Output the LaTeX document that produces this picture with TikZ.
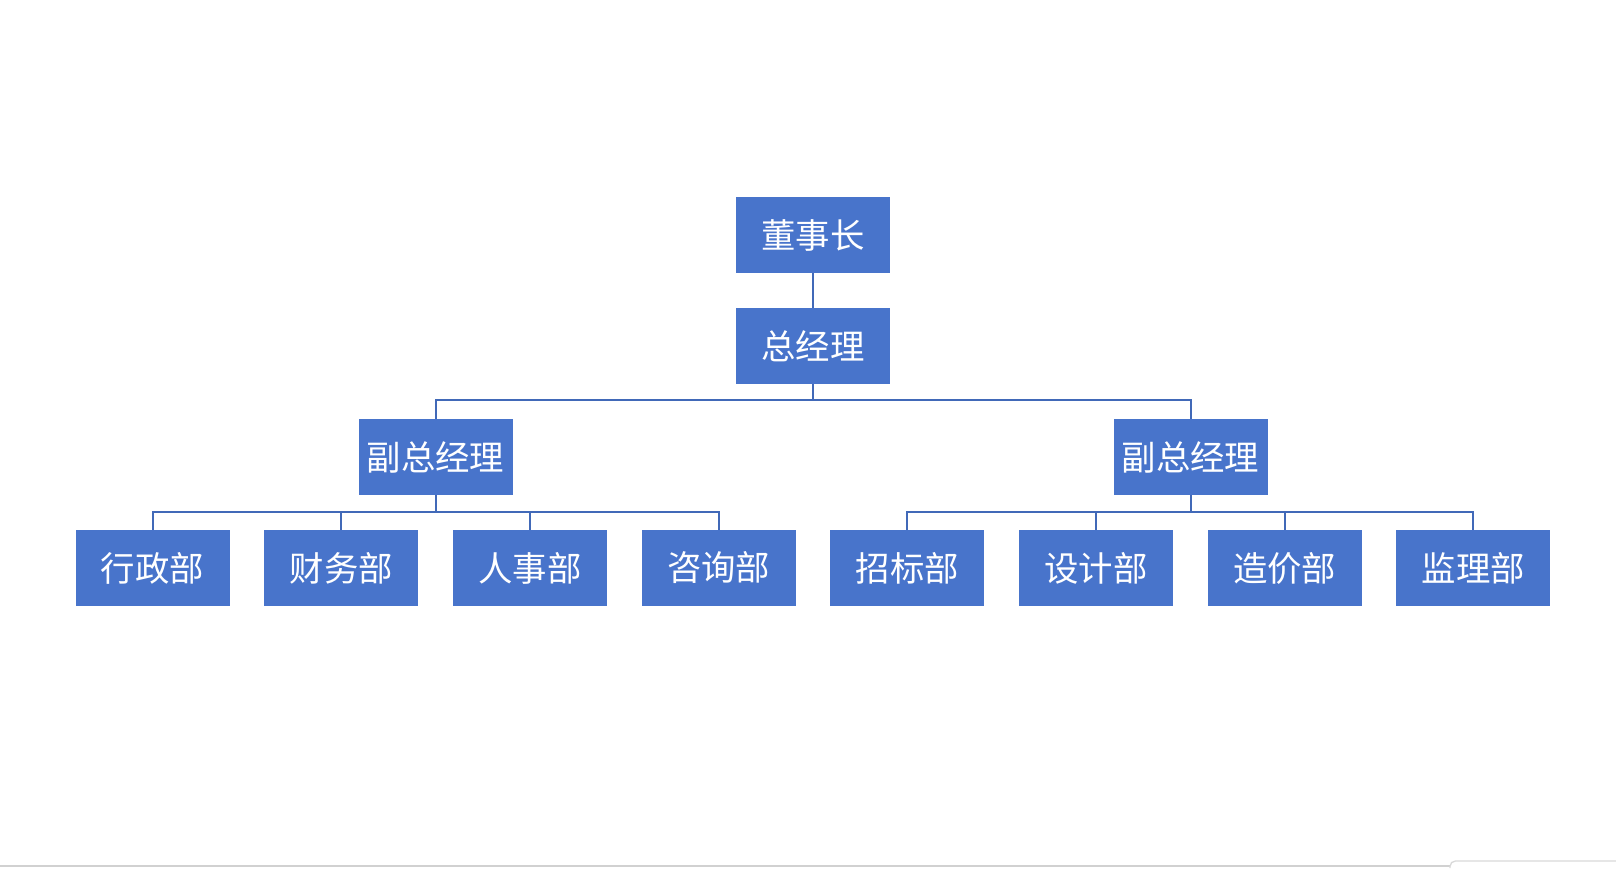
\documentclass[tikz,border=0pt]{standalone}
\usepackage{fontspec}
\newfontfamily\cjk{Noto Sans CJK SC}
\usetikzlibrary{positioning}
\definecolor{boxblue}{HTML}{4874CB}
\definecolor{linkblue}{HTML}{4169B8}
\tikzset{unit/.style={fill=boxblue,text=white,minimum width=115.5pt,minimum height=57pt,inner sep=0pt,font=\cjk\fontsize{25.8}{26}\selectfont},
link/.style={draw=linkblue,line width=1.5pt}}

\begin{document}
\begin{tikzpicture}[x=.75pt,y=-.75pt]
\useasboundingbox (0,0) rectangle (1616,868);
\node[unit] (dsz) at (813,235){董事长};\node[unit] (zjl) at (813,346){总经理};
\node[unit] (fzA) at (435.5,457){副总经理};\node[unit] (fzB) at (1190.5,457){副总经理};
\foreach \i/\t in {0/行政部,1/财务部,2/人事部,3/咨询部,4/招标部,5/设计部,6/造价部,7/监理部}{\node[unit] (bm\i) at (152.5+\i*188.7,568){\t};}
\draw[link] (dsz) -- (zjl);
\foreach \f in {fzA,fzB}{\draw[link] (zjl.south) -- ++(0,16) -| (\f.north);}
\foreach \i in {0,...,3}{\draw[link] (fzA.south) -- ++(0,17) -| (bm\i.north);}
\foreach \i in {4,...,7}{\draw[link] (fzB.south) -- ++(0,17) -| (bm\i.north);}
% lower frame edge of the screenshot
\draw[black!18,line width=1pt] (0,866)--(1450,866);\draw[black!15,line width=1pt,rounded corners=4pt] (1450,868)--(1450,861)--(1616,861);
\end{tikzpicture}
\end{document}
